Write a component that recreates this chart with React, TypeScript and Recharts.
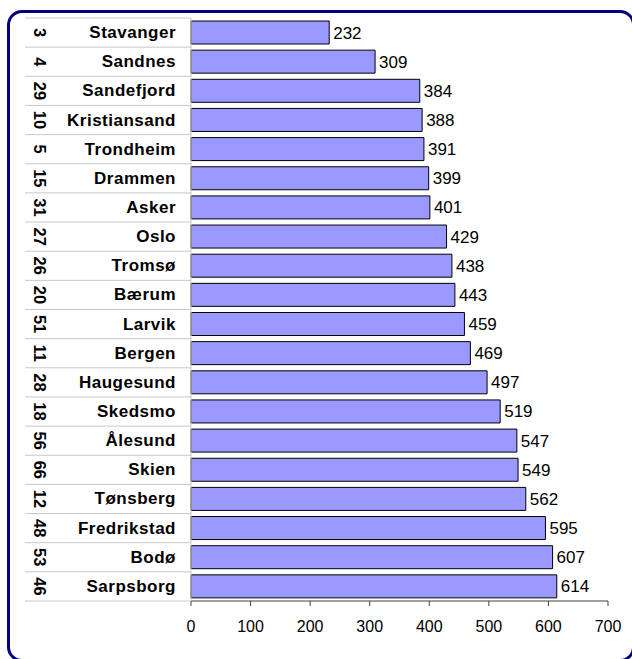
import { BarChart, Bar, XAxis, YAxis, LabelList } from 'recharts'

const cities = [
  'Stavanger', 'Sandnes', 'Sandefjord', 'Kristiansand', 'Trondheim',
  'Drammen', 'Asker', 'Oslo', 'Tromsø', 'Bærum',
  'Larvik', 'Bergen', 'Haugesund', 'Skedsmo', 'Ålesund',
  'Skien', 'Tønsberg', 'Fredrikstad', 'Bodø', 'Sarpsborg',
]
const ranks = [3, 4, 29, 10, 5, 15, 31, 27, 26, 20, 51, 11, 28, 18, 56, 66, 12, 48, 53, 46]
const values = [232, 309, 384, 388, 391, 399, 401, 429, 438, 443, 459, 469, 497, 519, 547, 549, 562, 595, 607, 614]
const xTicks = [0, 100, 200, 300, 400, 500, 600, 700]

const data = cities.map((city, i) => ({ city, rank: ranks[i], value: values[i] }))

const FONT = '"Liberation Sans", Arial, sans-serif'
const TOP = 18
const BOTTOM = 601
const BAND = (BOTTOM - TOP) / cities.length

// rank number (rotated) + city name, plus the table lines of the label column
const CityTick = ({ y, payload, index }: any) => {
  const rank = ranks[index]
  return (
    <g>
      {index === 0 && (
        <line x1={25} x2={191} y1={y - BAND / 2} y2={y - BAND / 2} stroke="#c8c8c8" />
      )}
      <line x1={25} x2={191} y1={y + BAND / 2} y2={y + BAND / 2} stroke="#c8c8c8" />
      <text
        x={0}
        y={0}
        transform={`translate(40, ${y}) rotate(90)`}
        textAnchor="middle"
        dominantBaseline="central"
        fontFamily={FONT}
        fontWeight="bold"
        fontSize={16.5}
        fill="#000"
      >
        {rank}
      </text>
      <text
        x={176}
        y={y}
        textAnchor="end"
        dominantBaseline="central"
        fontFamily={FONT}
        fontWeight="bold"
        fontSize={17}
        letterSpacing={0.5}
        fill="#000"
      >
        {payload.value}
      </text>
    </g>
  )
}

export default function App() {
  return (
    <div
      style={{
        position: 'fixed',
        left: 0,
        top: 0,
        width: 632,
        height: 659,
        overflow: 'hidden',
        background: '#fff',
      }}
    >
      <div
        style={{
          position: 'absolute',
          left: 7,
          top: 10,
          width: 622,
          height: 646,
          border: '3px solid #000080',
          borderRadius: 15,
        }}
      />
      <div style={{ position: 'absolute', left: 0, top: 0 }}>
        <BarChart
          width={632}
          height={659}
          data={data}
          layout="vertical"
          margin={{ top: TOP, right: 24, bottom: 18, left: 26 }}
          barSize={23}
        >
          <XAxis
            type="number"
            domain={[0, 700]}
            ticks={xTicks}
            interval={0}
            height={40}
            axisLine={{ stroke: '#404040' }}
            tickLine={{ stroke: '#404040' }}
            tickSize={5}
            tickMargin={15}
            tick={{ fill: '#000', fontSize: 16, fontFamily: FONT }}
          />
          <YAxis
            type="category"
            dataKey="city"
            width={165}
            interval={0}
            axisLine={{ stroke: '#c8c8c8' }}
            tickLine={false}
            tick={<CityTick />}
          />
          <Bar dataKey="value" fill="#9999ff" stroke="#000" strokeWidth={1} isAnimationActive={false}>
            <LabelList
              dataKey="value"
              position="right"
              offset={4}
              fill="#000"
              fontSize={17}
              fontFamily={FONT}
            />
          </Bar>
        </BarChart>
      </div>
    </div>
  )
}
